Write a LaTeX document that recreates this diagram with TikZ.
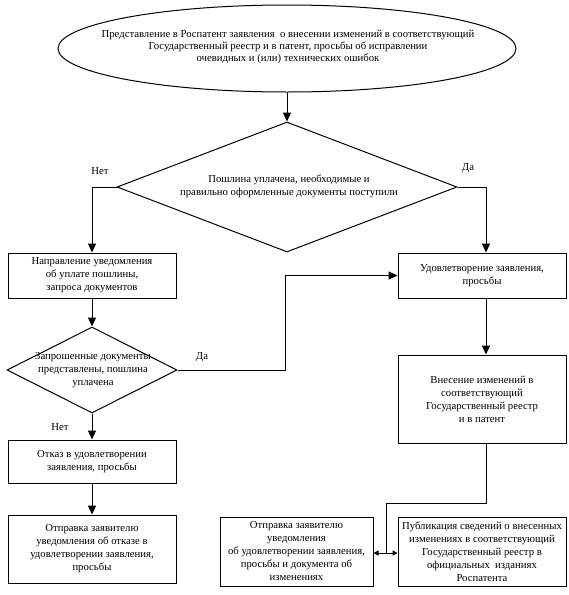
\documentclass[tikz,border=0pt]{standalone}
\usepackage{fontspec}
\setmainfont{Liberation Serif}
\usetikzlibrary{shapes.geometric,arrows.meta}
\begin{document}
\begin{tikzpicture}[x=1pt,y=-1pt,
  every node/.style={font=\fontsize{10.7}{13}\selectfont},
  box/.style={draw, line width=1pt, align=center, inner sep=1pt},
  decision/.style={draw, diamond, line width=1pt, inner sep=0pt},
  ell/.style={draw, ellipse, line width=1pt, inner sep=0pt},
  txt/.style={align=center, inner sep=0pt},
  arr/.style={line width=1pt, -{Triangle[length=9pt,width=8pt]}},
  conn/.style={line width=1pt},
  sarr/.style={line width=1pt, -{Triangle[length=5pt,width=5pt]}}
]
\useasboundingbox (0,0) rectangle (569,595);
\fill[white] (0,0) rectangle (569,595);

% start ellipse
\node[ell, minimum width=458pt, minimum height=87pt] (e) at (287,48.5) {};
\node[txt, font=\fontsize{10.7}{12}\selectfont] (et) at (288,47) {Представление в Роспатент заявления\ \ о внесении изменений в соответствующий\\Государственный реестр и в патент, просьбы об исправлении\\очевидных и (или) технических ошибок};

% first decision
\node[decision, minimum width=340pt, minimum height=130pt] (d1) at (287,187) {};
\node[txt] (d1t) at (289,186) {Пошлина уплачена, необходимые и\\правильно оформленные документы поступили};

% left column
\node[box, minimum width=168pt, minimum height=45pt] (b1) at (92,275.5) {Направление уведомления\\об уплате пошлины,\\запроса документов};
\node[decision, minimum width=170pt, minimum height=86pt] (d2) at (92,370) {};
\node[txt] (d2t) at (93,370) {Запрошенные документы\\представлены, пошлина\\уплачена};
\node[box, minimum width=168pt, minimum height=43pt] (n1) at (92,461.5) {Отказ в удовлетворении\\заявления, просьбы};
\node[box, minimum width=168pt, minimum height=68pt] (n2) at (92,549) {Отправка заявителю\\уведомления об отказе в\\удовлетворении заявления,\\просьбы};

% right column
\coordinate (rx) at (486,0);
\node[box, minimum width=168pt, minimum height=45pt] (r1) at (482,275.5) {Удовлетворение заявления,\\просьбы};
\node[box, minimum width=168pt, minimum height=88pt] (r2) at (482,399) {Внесение изменений в\\соответствующий\\Государственный реестр\\и в патент};
\node[box, minimum width=168pt, minimum height=69pt, inner sep=0pt] (p2) at (482,551.5) {Публикация сведений о внесенных\\изменениях в соответствующий\\Государственный реестр в\\официальных\ \ изданиях\\Роспатента};
\node[box, minimum width=153pt, minimum height=69pt, inner sep=0pt] (p1) at (296.5,551.5) {Отправка заявителю\\уведомления\\об удовлетворении заявления,\\просьбы и документа об\\изменениях};

% labels
\node[txt] (l1) at (100,171) {Нет};
\node[txt] (l2) at (468,168) {Да};
\node[txt] (l3) at (202,357) {Да};
\node[txt] (l4) at (60,427) {Нет};

% connectors
\draw[arr] (e.south) -- (d1.north);
\draw[arr] (d1.west) -| (b1.north);
\draw[arr] (d1.east) -| (rx |- r1.north);
\draw[arr] (b1.south) -- (b1.south |- d2.north);
\draw[arr] (d2.east) -- ++(108,0) |- (r1.west);
\draw[arr] (d2.south) -- (d2.south |- n1.north);
\draw[arr] (n1.south) -- (n2.north);
\draw[arr] (rx |- r1.south) -- (rx |- r2.north);
\coordinate (j) at (386,553);
\draw[conn] (rx |- r2.south) -- ++(0,60) -| (j);
\draw[sarr] (j) -- (j -| p1.east);
\draw[sarr] (j) -- (j -| p2.west);
\end{tikzpicture}
\end{document}
